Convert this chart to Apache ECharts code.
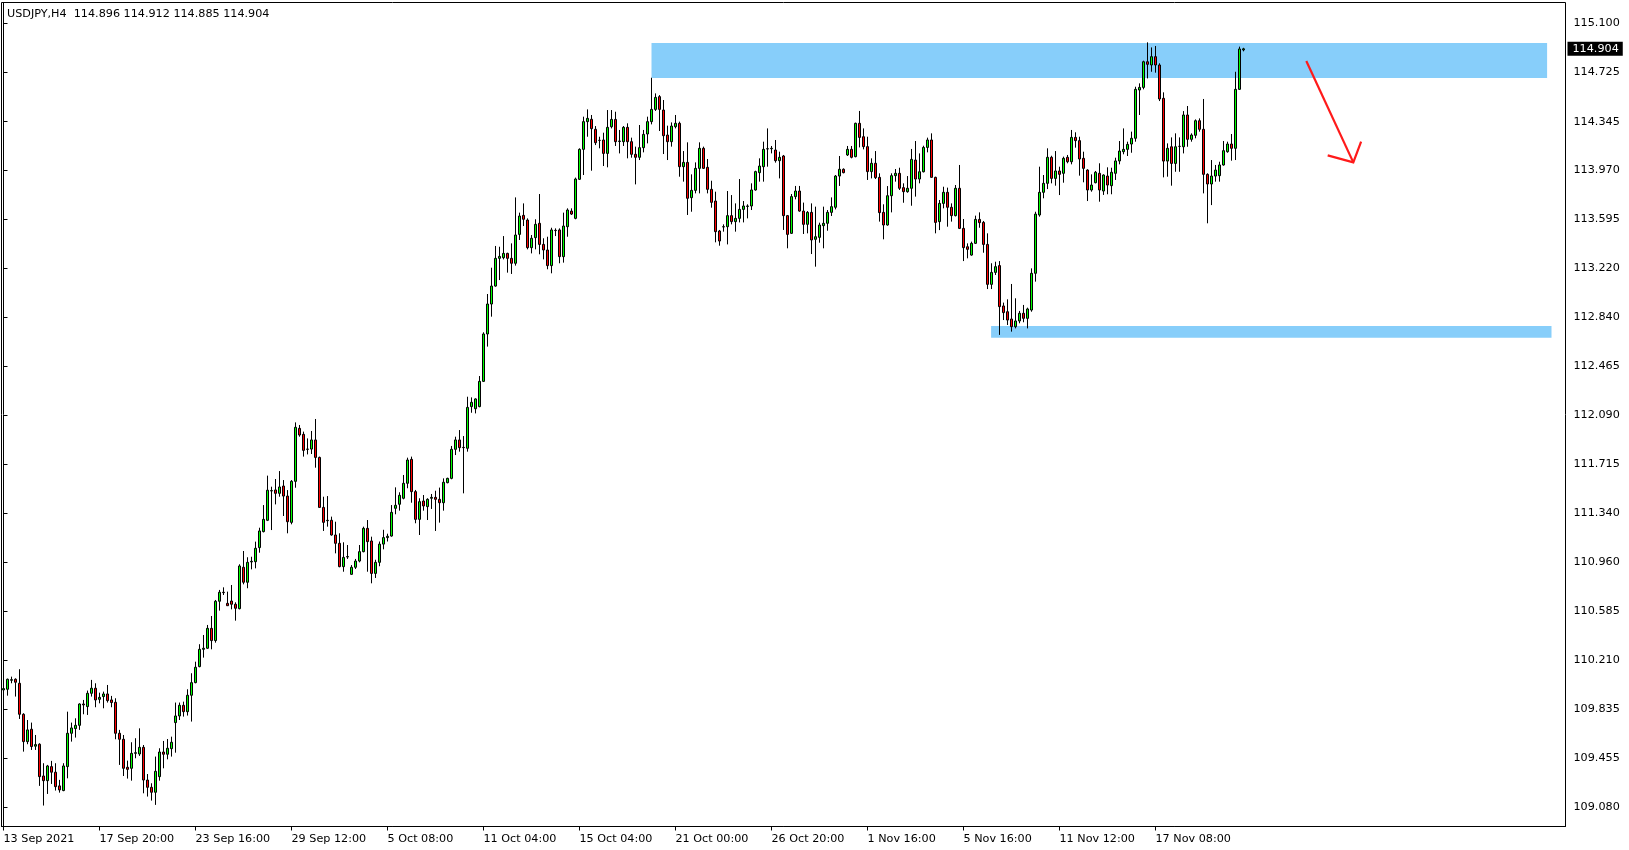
<!DOCTYPE html>
<html>
<head>
<meta charset="utf-8">
<script src="https://cdn.jsdelivr.net/npm/echarts@6/dist/echarts.min.js"></script>
<style>
html,body{margin:0;padding:0;background:#fff;}
#chart{width:1629px;height:850px;}
</style>
</head>
<body>
<div id="chart"></div>
<script>
// ---- data (USDJPY, H4) ----
const symbolTitle = 'USDJPY,H4  114.896 114.912 114.885 114.904';
const xTickLabels = ['13 Sep 2021','17 Sep 20:00','23 Sep 16:00','29 Sep 12:00','5 Oct 08:00','11 Oct 04:00','15 Oct 04:00','21 Oct 00:00','26 Oct 20:00','1 Nov 16:00','5 Nov 16:00','11 Nov 12:00','17 Nov 08:00'];
const barsPerLabel = 24;
const totalSlots = 391;
const yTickLabels = [115.100,114.725,114.345,113.970,113.595,113.220,112.840,112.465,112.090,111.715,111.340,110.960,110.585,110.210,109.835,109.455,109.080];
const yMin = 108.931, yMax = 115.260;

const opens = [
109.980,109.985,110.054,110.062,110.031,109.793,109.583,109.678,109.548,109.563,
109.319,109.283,109.391,109.348,109.243,109.207,109.391,109.647,109.683,109.708,
109.872,109.852,109.954,109.993,109.908,109.929,109.949,109.903,109.885,109.647,
109.601,109.386,109.378,109.493,109.488,109.539,109.288,109.232,109.194,109.314,
109.503,109.486,109.529,109.729,109.780,109.862,109.813,109.939,110.036,110.159,
110.292,110.300,110.453,110.359,110.661,110.730,110.645,110.663,110.638,110.604,
110.922,110.807,110.963,110.965,111.073,111.196,111.283,111.508,111.516,111.490,
111.546,111.469,111.267,111.582,111.989,111.943,111.828,111.830,111.900,111.766,
111.382,111.280,111.283,111.170,111.106,110.927,111.001,110.868,110.922,110.970,
111.042,111.221,111.124,110.875,110.960,111.100,111.150,111.162,111.375,111.406,
111.452,111.567,111.751,111.503,111.290,111.431,111.388,111.452,111.459,111.444,
111.418,111.572,111.605,111.828,111.900,111.843,111.836,112.156,112.140,112.156,
112.350,112.714,112.944,113.082,113.295,113.300,113.333,113.295,113.257,113.479,
113.625,113.589,113.377,113.454,113.564,113.402,113.359,113.239,113.510,113.513,
113.308,113.538,113.658,113.602,113.902,114.132,114.345,114.363,114.286,114.201,
114.204,114.101,114.306,114.362,114.193,114.191,114.301,114.191,114.094,114.071,
114.145,114.250,114.345,114.439,114.537,114.434,114.242,114.191,114.306,114.332,
113.999,114.032,113.761,113.817,113.986,114.140,113.994,113.825,113.735,113.505,
113.536,113.538,113.623,113.577,113.602,113.671,113.694,113.697,113.820,113.953,
113.999,114.135,114.137,114.127,114.045,114.081,113.623,113.487,113.769,113.812,
113.658,113.556,113.648,113.441,113.456,113.546,113.564,113.648,113.687,113.927,
113.979,114.089,114.132,114.076,114.332,114.229,114.153,113.961,114.025,113.917,
113.648,113.551,113.776,113.930,113.948,113.838,113.807,113.833,114.050,113.904,
113.960,114.147,114.204,113.917,113.577,113.717,113.802,113.687,113.623,113.833,
113.525,113.384,113.320,113.410,113.594,113.571,113.402,113.095,113.187,113.239,
112.929,112.885,112.829,112.770,112.814,112.873,112.834,112.898,113.180,113.628,
113.802,113.871,114.071,113.909,113.966,113.948,114.071,114.037,114.224,114.199,
114.063,113.973,113.820,113.876,113.948,113.812,113.927,113.853,113.948,114.043,
114.114,114.132,114.173,114.217,114.588,114.608,114.805,114.780,114.844,114.780,
114.524,114.042,114.152,114.024,114.155,114.152,114.396,114.209,114.240,114.352,
114.286,113.940,113.866,113.927,113.930,114.012,114.114,114.173,114.140,114.593,
114.896];
const highs = [
110.000,110.067,110.082,110.069,110.139,109.801,109.749,109.729,109.634,109.570,
109.417,109.404,109.435,109.417,109.289,109.417,109.813,109.729,109.762,109.877,
109.903,109.975,110.057,110.031,109.959,109.967,110.018,109.934,109.916,109.673,
109.634,109.437,109.578,109.609,109.685,109.557,109.334,109.263,109.468,109.532,
109.588,109.603,109.621,109.883,109.883,109.890,109.985,110.108,110.197,110.331,
110.402,110.479,110.548,110.671,110.748,110.768,110.735,110.786,110.653,110.945,
111.047,110.999,111.003,111.119,111.226,111.400,111.626,111.541,111.600,111.661,
111.592,111.515,111.592,112.035,112.015,111.964,111.912,111.969,112.061,111.772,
111.464,111.469,111.311,111.272,111.183,111.114,111.093,110.939,110.986,111.093,
111.234,111.285,111.157,110.980,111.120,111.210,111.180,111.400,111.536,111.498,
111.631,111.764,111.772,111.516,111.452,111.477,111.452,111.485,111.510,111.534,
111.605,111.610,111.854,111.925,111.976,111.930,112.232,112.227,112.220,112.391,
112.727,113.021,113.223,113.390,113.384,113.466,113.338,113.410,113.763,113.646,
113.717,113.602,113.474,113.595,113.789,113.449,113.461,113.530,113.525,113.525,
113.646,113.679,113.679,113.915,114.140,114.383,114.439,114.396,114.311,114.229,
114.260,114.434,114.434,114.421,114.281,114.311,114.332,114.222,114.153,114.319,
114.281,114.383,114.682,114.562,114.549,114.511,114.314,114.339,114.396,114.345,
114.119,114.186,113.940,114.032,114.186,114.153,114.058,113.891,113.807,113.513,
113.556,113.812,113.781,113.717,113.904,113.735,113.710,113.871,113.968,114.063,
114.191,114.293,114.158,114.204,114.114,114.089,113.628,113.789,113.851,113.851,
113.723,113.658,113.717,113.692,113.569,113.692,113.666,113.763,113.935,114.081,
113.986,114.158,114.158,114.337,114.427,114.293,114.229,114.063,114.119,113.948,
113.710,113.850,113.948,113.981,113.991,113.871,113.927,114.135,114.196,114.101,
114.160,114.222,114.255,113.922,113.743,113.845,113.838,113.717,113.858,114.012,
113.597,113.410,113.423,113.623,113.648,113.582,113.487,113.257,113.269,113.274,
112.955,112.980,113.098,112.988,112.891,112.937,112.916,113.218,113.653,113.999,
113.935,114.140,114.083,114.119,113.999,114.076,114.089,114.281,114.263,114.229,
114.114,113.979,113.940,113.966,114.025,113.940,113.994,113.991,114.068,114.196,
114.293,114.191,114.268,114.613,114.639,114.813,114.954,114.915,114.926,114.793,
114.570,114.178,114.224,114.255,114.224,114.426,114.465,114.255,114.362,114.370,
114.519,113.948,114.050,114.012,114.037,114.196,114.191,114.250,114.728,114.921,
114.912];
const lows = [
109.883,109.936,110.031,109.929,109.757,109.506,109.563,109.519,109.519,109.243,
109.092,109.181,109.258,109.207,109.191,109.202,109.301,109.583,109.614,109.673,
109.793,109.788,109.929,109.847,109.877,109.839,109.883,109.847,109.601,109.404,
109.319,109.299,109.283,109.455,109.473,109.186,109.161,109.130,109.097,109.283,
109.378,109.447,109.468,109.498,109.749,109.775,109.783,109.737,110.031,110.154,
110.228,110.295,110.292,110.343,110.589,110.709,110.627,110.599,110.512,110.599,
110.791,110.761,110.906,110.914,111.034,111.190,111.277,111.208,111.405,111.464,
111.316,111.183,111.252,111.533,111.925,111.772,111.789,111.792,111.687,111.380,
111.201,111.234,111.165,111.029,110.922,110.888,110.986,110.863,110.909,110.960,
111.037,110.888,110.799,110.840,110.930,111.060,111.120,111.157,111.329,111.357,
111.444,111.529,111.418,111.260,111.170,111.357,111.285,111.370,111.201,111.265,
111.357,111.567,111.598,111.784,111.810,111.490,111.810,112.109,112.104,112.151,
112.345,112.617,112.847,113.077,113.128,113.287,113.185,113.175,113.239,113.436,
113.543,113.364,113.333,113.364,113.326,113.287,113.211,113.180,113.466,113.257,
113.262,113.461,113.628,113.595,113.897,113.935,114.229,113.968,114.165,114.140,
114.004,113.994,114.293,114.158,114.101,114.158,114.063,114.068,113.863,114.050,
114.109,114.178,114.324,114.427,114.273,114.096,114.050,114.153,114.293,113.922,
113.884,113.628,113.653,113.794,113.794,113.981,113.794,113.684,113.418,113.392,
113.500,113.402,113.556,113.500,113.571,113.571,113.602,113.666,113.815,113.884,
113.884,113.999,114.101,114.030,113.909,113.513,113.372,113.482,113.748,113.653,
113.482,113.487,113.328,113.231,113.415,113.372,113.507,113.620,113.671,113.851,
113.948,114.081,114.063,114.071,114.147,114.132,113.897,113.909,113.904,113.577,
113.441,113.546,113.648,113.884,113.820,113.722,113.799,113.699,113.769,113.871,
113.955,114.109,113.914,113.487,113.512,113.679,113.538,113.577,113.617,113.520,
113.274,113.295,113.315,113.405,113.530,113.338,113.059,113.059,113.167,112.707,
112.821,112.783,112.732,112.757,112.796,112.804,112.757,112.885,113.116,113.615,
113.756,113.827,113.871,113.853,113.781,113.876,114.025,114.017,114.145,113.930,
113.879,113.735,113.807,113.871,113.730,113.782,113.787,113.787,113.897,114.017,
114.094,114.081,114.106,114.191,114.396,114.593,114.677,114.728,114.721,114.503,
113.917,113.922,113.853,113.960,113.960,114.101,114.152,114.191,114.217,114.268,
113.794,113.564,113.704,113.884,113.884,114.007,114.106,114.045,114.050,114.588,
114.885];
const closes = [
109.990,110.062,110.059,110.039,109.793,109.583,109.673,109.545,109.560,109.314,
109.283,109.396,109.348,109.237,109.212,109.396,109.647,109.688,109.708,109.872,
109.865,109.954,109.993,109.903,109.923,109.949,109.898,109.883,109.647,109.601,
109.378,109.370,109.493,109.498,109.539,109.288,109.232,109.194,109.355,109.503,
109.486,109.532,109.578,109.780,109.862,109.813,109.939,110.036,110.154,110.292,
110.300,110.453,110.359,110.661,110.730,110.727,110.627,110.638,110.607,110.932,
110.807,110.960,110.968,111.068,111.201,111.290,111.514,111.511,111.490,111.539,
111.469,111.272,111.582,111.997,111.938,111.820,111.830,111.900,111.766,111.382,
111.267,111.283,111.170,111.106,110.927,110.998,111.004,110.922,110.970,111.042,
111.221,111.119,110.875,110.960,111.100,111.150,111.160,111.344,111.398,111.475,
111.567,111.746,111.503,111.290,111.426,111.393,111.444,111.459,111.444,111.418,
111.575,111.605,111.828,111.900,111.841,111.841,112.150,112.189,112.215,112.350,
112.714,112.944,113.082,113.295,113.310,113.333,113.295,113.257,113.474,113.620,
113.595,113.377,113.449,113.556,113.402,113.359,113.239,113.513,113.508,113.308,
113.543,113.666,113.635,113.904,114.132,114.345,114.370,114.291,114.183,114.201,
114.101,114.301,114.362,114.191,114.196,114.301,114.191,114.094,114.071,114.145,
114.247,114.345,114.439,114.531,114.439,114.237,114.191,114.311,114.332,113.999,
114.032,113.756,113.817,113.986,114.140,113.986,113.825,113.725,113.500,113.428,
113.538,113.623,113.577,113.602,113.671,113.697,113.697,113.820,113.961,114.004,
114.132,114.137,114.140,114.045,114.071,113.623,113.479,113.769,113.812,113.658,
113.556,113.648,113.436,113.461,113.551,113.564,113.648,113.692,113.927,113.979,
113.953,114.132,114.071,114.332,114.224,114.153,113.961,114.025,113.915,113.646,
113.551,113.776,113.930,113.948,113.833,113.807,113.833,114.055,113.904,113.960,
114.147,114.204,113.917,113.571,113.717,113.802,113.687,113.623,113.833,113.525,
113.377,113.364,113.410,113.594,113.569,113.402,113.095,113.187,113.231,112.924,
112.878,112.821,112.770,112.814,112.873,112.834,112.906,113.180,113.635,113.802,
113.871,114.071,113.909,113.966,113.940,114.063,114.037,114.224,114.199,114.058,
113.986,113.820,113.858,113.956,113.820,113.935,113.858,113.956,114.043,114.119,
114.132,114.170,114.217,114.593,114.608,114.805,114.785,114.844,114.780,114.519,
114.042,114.140,114.024,114.152,114.155,114.396,114.209,114.242,114.352,114.286,
113.940,113.866,113.927,113.973,114.012,114.122,114.173,114.140,114.593,114.903,
114.904];

// annotation zones (bar index from / to, price bottom / top)
const resistanceZone = {fromBar: 162, toBar: 385.9, low: 114.680, high: 114.949};
const supportZone = {fromBar: 246.9, toBar: 387.0, low: 112.685, high: 112.775};
// hand-drawn arrow (bar index, price)
const arrowShaft = [[325.7, 114.810], [337.45, 114.032]];
const arrowHead = [[331.05, 114.086], [337.45, 114.032], [339.4, 114.191]];

// ---- chart ----
const categories = Array.from({length: totalSlots}, (_, i) => String(i));
const candles = opens.map((o, i) => [o, closes[i], lows[i], highs[i]]);
const lastPrice = closes[closes.length - 1];
const FONT = 'DejaVu Sans';
const FS = 11.2;
const isLabelIdx = (i) => i % barsPerLabel === 0 && i / barsPerLabel < xTickLabels.length;

const chart = echarts.init(document.getElementById('chart'), null, {renderer: 'canvas'});
chart.setOption({
  animation: false,
  backgroundColor: '#fff',
  title: {
    text: symbolTitle, left: 2, top: 4,
    textStyle: {fontFamily: FONT, fontSize: FS, fontWeight: 'normal', color: '#000'}
  },
  grid: {left: 1.5, right: 63.5, top: 2.5, bottom: 23.5, show: true, borderColor: '#000', borderWidth: 1, backgroundColor: '#fff'},
  xAxis: [{
    type: 'category', data: categories, boundaryGap: true,
    axisLine: {show: true, lineStyle: {color: '#000', width: 1}},
    axisTick: {show: true, alignWithLabel: true, length: 4, interval: (i) => isLabelIdx(i), lineStyle: {color: '#000'}},
    axisLabel: {
      show: true, interval: (i) => isLabelIdx(i), align: 'left', margin: 7,
      formatter: (v, i) => xTickLabels[Math.round(i / barsPerLabel)] || '',
      fontFamily: FONT, fontSize: FS, color: '#000'
    },
    splitLine: {show: false}
  }, {
    type: 'value', min: -0.5, max: totalSlots - 0.5, show: false
  }],
  yAxis: [{
    type: 'value', position: 'right', min: yMin, max: yMax, scale: true,
    axisLine: {show: true, lineStyle: {color: '#000'}},
    axisTick: {show: true, length: 4, customValues: yTickLabels, lineStyle: {color: '#000'}},
    axisLabel: {show: true, customValues: yTickLabels, margin: 8, formatter: (v) => v.toFixed(3),
      fontFamily: FONT, fontSize: FS, color: '#000'},
    splitLine: {show: false}
  }, {
    type: 'value', position: 'right', min: yMin, max: yMax,
    axisLine: {show: false}, axisTick: {show: false}, splitLine: {show: false},
    axisLabel: {show: true, customValues: [lastPrice], margin: 2, formatter: (v) => v.toFixed(3),
      fontFamily: FONT, fontSize: FS, color: '#fff', backgroundColor: '#000', padding: [2, 4, 0, 5], lineHeight: 12}
  }],
  series: [{
    type: 'line', xAxisIndex: 1, yAxisIndex: 0, data: [], silent: true, z: 1,
    markArea: {
      silent: true,
      itemStyle: {color: '#87cefa', opacity: 1},
      data: [
        [{coord: [resistanceZone.fromBar, resistanceZone.high]}, {coord: [resistanceZone.toBar, resistanceZone.low]}],
        [{coord: [supportZone.fromBar, supportZone.high]}, {coord: [supportZone.toBar, supportZone.low]}]
      ]
    }
  }, {
    type: 'candlestick', xAxisIndex: 0, yAxisIndex: 0, data: candles, z: 3,
    barWidth: 2,
    itemStyle: {color: '#00ff00', color0: '#ff0000', borderColor: '#000', borderColor0: '#000', borderColorDoji: '#000', borderWidth: 1},
    emphasis: {disabled: true}
  }, {
    type: 'line', xAxisIndex: 1, yAxisIndex: 0, data: arrowShaft, symbol: 'none', silent: true, z: 4,
    lineStyle: {color: '#ff1a1a', width: 2.2}
  }, {
    type: 'line', xAxisIndex: 1, yAxisIndex: 0, data: arrowHead, symbol: 'none', silent: true, z: 4,
    lineStyle: {color: '#ff1a1a', width: 2.2, join: 'miter'}
  }]
});
</script>
</body>
</html>
